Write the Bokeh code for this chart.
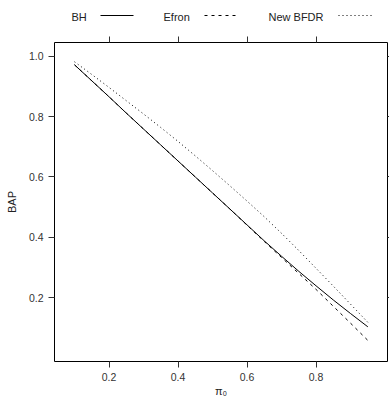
from bokeh.plotting import figure
from bokeh.layouts import column
from bokeh.models import Range1d, LinearAxis, FixedTicker, PrintfTickFormatter
from bokeh.core.properties import value
from bokeh.embed import file_html
from bokeh.resources import INLINE

pi0 = [0.10, 0.15, 0.20, 0.25, 0.30, 0.35, 0.40, 0.45, 0.50, 0.55,
       0.60, 0.65, 0.70, 0.75, 0.80, 0.85, 0.90, 0.95]
bh = [0.972, 0.919, 0.866, 0.812, 0.759, 0.706, 0.653, 0.600, 0.547, 0.494,
      0.441, 0.388, 0.337, 0.287, 0.239, 0.192, 0.147, 0.103]
efron = [0.972, 0.919, 0.866, 0.812, 0.759, 0.706, 0.653, 0.600, 0.547, 0.494,
         0.440, 0.386, 0.333, 0.280, 0.227, 0.171, 0.115, 0.058]
new_bfdr = [0.982, 0.940, 0.897, 0.853, 0.809, 0.764, 0.718, 0.670, 0.621, 0.571,
            0.520, 0.468, 0.413, 0.356, 0.297, 0.238, 0.178, 0.118]
x_ticks = [0.2, 0.4, 0.6, 0.8]
y_ticks = [0.2, 0.4, 0.6, 0.8, 1.0]
series_names = ["BH", "Efron", "New BFDR"]
series_dash = ["solid", "3 4", "1 3"]

FONT = "Liberation Sans"
W, LEG_H, MAIN_H = 389, 30, 373
BORDER_L, BORDER_R = 54, 2

# ---------- legend strip (key: label followed by line sample) ----------
# its frame is aligned with the main panel's frame by the column layout,
# so its x range is expressed in page pixels across that frame
leg = figure(width=W, height=LEG_H, output_backend="svg", toolbar_location=None,
             x_range=Range1d(BORDER_L, W - BORDER_R), y_range=Range1d(LEG_H, 0),
             x_axis_type=None, y_axis_type=None, min_border=0,
             min_border_left=BORDER_L, min_border_right=BORDER_R)
leg.grid.visible = False
leg.outline_line_color = None
leg_text_x = [71, 163, 268]
leg_line_x = [100, 204, 338]
leg_y = 16
leg.text(x=leg_text_x, y=[leg_y] * 3, text=series_names, text_font=value(FONT),
         text_font_size="11px", text_color="#222222", text_baseline="middle")
for lx, dash in zip(leg_line_x, series_dash):
    leg.line([lx, lx + 33], [leg_y - 1, leg_y - 1], line_color="black",
             line_width=1, line_dash=dash)

# ---------- main panel ----------
p = figure(width=W, height=MAIN_H, output_backend="svg", toolbar_location=None,
           x_range=Range1d(0.042, 1.007), y_range=Range1d(-0.012, 1.046),
           x_axis_type=None, y_axis_type=None,
           min_border_left=BORDER_L, min_border_right=BORDER_R, min_border_top=12,
           min_border_bottom=42)
p.grid.visible = False
p.outline_line_color = "black"
p.outline_line_width = 1

for ys, dash in zip([bh, efron, new_bfdr], series_dash):
    p.line(pi0, ys, line_color="black", line_width=1, line_dash=dash)


def make_axis(ticks, label, show_labels=True, tick_len=6):
    return LinearAxis(ticker=FixedTicker(ticks=ticks), axis_label=label,
                      formatter=PrintfTickFormatter(format="%.1f"),
                      axis_line_color=None, major_tick_line_color="#333333",
                      major_tick_out=tick_len, major_tick_in=0,
                      minor_tick_line_color=None,
                      major_label_text_font=FONT, major_label_text_font_size="10.5px",
                      major_label_text_color="#333333" if show_labels else None,
                      axis_label_text_font=FONT, axis_label_text_font_size="11px",
                      axis_label_text_font_style="normal",
                      axis_label_text_color="#222222")


bottom = make_axis(x_ticks, "π₀")
bottom.axis_label_standoff = 1
left = make_axis(y_ticks, "BAP")
left.axis_label_standoff = 8
top = make_axis(x_ticks, None, show_labels=False)
top.major_label_standoff = 0
top.major_label_overrides = {t: "" for t in x_ticks}
right = make_axis(y_ticks, None, show_labels=False, tick_len=2)
right.major_label_standoff = 0
right.major_label_overrides = {t: "" for t in y_ticks}
p.add_layout(bottom, "below")
p.add_layout(left, "left")
p.add_layout(top, "above")
p.add_layout(right, "right")

layout = column(leg, p, spacing=0)
open("out.html", "w").write(file_html(layout, INLINE))
